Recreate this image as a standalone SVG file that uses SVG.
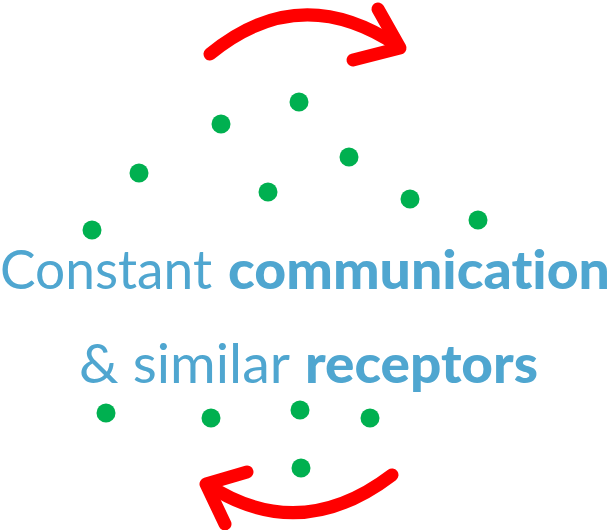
<svg xmlns="http://www.w3.org/2000/svg" width="615" height="530" viewBox="0 0 615 530">
<style>
.dot{fill:#00B050}
.arr{fill:none;stroke:#FF0000;stroke-width:13;stroke-linecap:round;stroke-linejoin:round}
.t{font-family:Lato,"Open Sans",sans-serif;font-size:54px;fill:#4FA6D0;font-variant-ligatures:none;font-feature-settings:"liga" 0,"clig" 0}
.b{font-weight:900}
</style>
<g id="connectors">
<path class="arr" d="M210,54 Q300,-20 398,46"/>
<path class="arr" d="M378,9 L400,48 L353,60"/>
<path class="arr" d="M392,475 Q300,545 208,485"/>
<path class="arr" d="M247,472 L206,484 L225,524"/>
</g>
<g id="dots">
<circle class="dot" cx="92" cy="230" r="9.5"/>
<circle class="dot" cx="139" cy="173" r="9.5"/>
<circle class="dot" cx="221" cy="124" r="9.5"/>
<circle class="dot" cx="299" cy="102" r="9.5"/>
<circle class="dot" cx="268" cy="192" r="9.5"/>
<circle class="dot" cx="349" cy="157" r="9.5"/>
<circle class="dot" cx="410" cy="199" r="9.5"/>
<circle class="dot" cx="478" cy="220" r="9.5"/>
<circle class="dot" cx="106" cy="413" r="9.5"/>
<circle class="dot" cx="211" cy="418" r="9.5"/>
<circle class="dot" cx="300" cy="410" r="9.5"/>
<circle class="dot" cx="370" cy="418" r="9.5"/>
<circle class="dot" cx="301" cy="468" r="9.5"/>
</g>
<g id="label">
<text class="t" x="0" y="289" textLength="212" lengthAdjust="spacingAndGlyphs">Constant</text>
<text class="t b" x="228" y="289" textLength="382" lengthAdjust="spacingAndGlyphs">communication</text>
<text class="t" x="79" y="383" textLength="211" lengthAdjust="spacingAndGlyphs">&amp; similar</text>
<text class="t b" x="305" y="383" textLength="233" lengthAdjust="spacingAndGlyphs">receptors</text>
</g>
</svg>
